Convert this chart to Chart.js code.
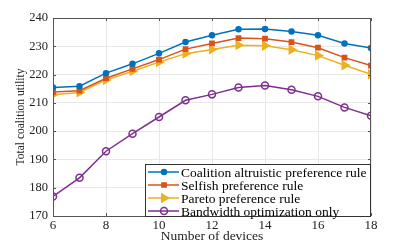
<!DOCTYPE html>
<html>
<head>
<meta charset="utf-8">
<script src="https://cdn.jsdelivr.net/npm/chart.js@4/dist/chart.umd.min.js"></script>
<style>
  html, body { margin: 0; padding: 0; background: #fff; }
  #wrap { width: 409px; height: 245px; }
</style>
</head>
<body>
<div id="wrap"><canvas id="utilityChart"></canvas></div>
<script>
const devices = [6, 7, 8, 9, 10, 11, 12, 13, 14, 15, 16, 17, 18];
const altruistic = [215.4, 215.9, 220.5, 223.8, 227.5, 231.5, 233.9, 236.0, 236.1, 235.2, 233.9, 231.0, 229.4];
const selfish = [213.8, 214.3, 218.7, 222.0, 225.3, 229.0, 231.0, 232.9, 232.7, 231.5, 229.5, 226.0, 223.2];
const pareto = [212.9, 213.7, 218.1, 221.2, 224.4, 227.4, 228.9, 230.4, 230.2, 228.8, 226.7, 223.3, 220.1];
const bandwidth = [176.9, 183.5, 192.9, 199.1, 205.0, 210.9, 213.0, 215.4, 216.1, 214.6, 212.3, 208.4, 205.4];
const xTicks = [6, 8, 10, 12, 14, 16, 18];
const yTicks = [170, 180, 190, 200, 210, 220, 230, 240];

const serif = "'Liberation Serif', 'Times New Roman', serif";

function toPoints(values) {
  return devices.map((d, i) => ({ x: d, y: values[i] }));
}

// Legend box inside the plot, bottom right, plus inward ticks and box
const insideLegend = {
  id: "insideLegend",
  afterDatasetsDraw(chart) {
    const ctx = chart.ctx;
    const area = chart.chartArea;
    const xs = chart.scales.x;
    const ys = chart.scales.y;

    // frame and inward ticks
    ctx.save();
    ctx.strokeStyle = "#555";
    ctx.lineWidth = 1;
    ctx.strokeRect(area.left + 0.5, area.top + 0.5, area.right - area.left - 1, area.bottom - area.top);
    ctx.beginPath();
    xTicks.forEach((t) => {
      const px = Math.round(xs.getPixelForValue(t)) + 0.5;
      ctx.moveTo(px, area.bottom);
      ctx.lineTo(px, area.bottom - 3);
      ctx.moveTo(px, area.top);
      ctx.lineTo(px, area.top + 3);
    });
    yTicks.forEach((t) => {
      const py = Math.round(ys.getPixelForValue(t)) + 0.5;
      ctx.moveTo(area.left, py);
      ctx.lineTo(area.left + 3, py);
      ctx.moveTo(area.right, py);
      ctx.lineTo(area.right - 3, py);
    });
    ctx.stroke();
    ctx.restore();
  },
  afterDraw(chart) {
    const ctx = chart.ctx;
    const area = chart.chartArea;
    const left = 145;
    const top = 164;
    const right = area.right;
    const bottom = area.bottom + 1;
    const rowH = 13;

    ctx.save();
    ctx.fillStyle = "#fff";
    ctx.fillRect(left, top, right - left, bottom - top);
    ctx.strokeStyle = "#333";
    ctx.lineWidth = 1;
    ctx.strokeRect(left + 0.5, top + 0.5, right - left - 1, bottom - top - 1);

    ctx.font = "13.5px " + serif;
    ctx.textBaseline = "middle";
    chart.data.datasets.forEach((ds, i) => {
      const cy = top + 8 + i * rowH;
      ctx.strokeStyle = ds.borderColor;
      ctx.lineWidth = 1.5;
      ctx.beginPath();
      ctx.moveTo(left + 3, cy);
      ctx.lineTo(left + 34, cy);
      ctx.stroke();
      ctx.fillStyle = ds.pointBackgroundColor;
      ctx.strokeStyle = ds.pointBorderColor;
      Chart.helpers.drawPoint(ctx, {
        pointStyle: ds.pointStyle,
        rotation: ds.pointRotation || 0,
        radius: ds.pointRadius,
        borderWidth: 1.5
      }, left + 19, cy);
      ctx.fillStyle = "#000";
      ctx.fillText(ds.label, left + 36, cy + 1);
    });
    ctx.restore();
  }
};

const ctx = document.getElementById("utilityChart").getContext("2d");
new Chart(ctx, {
  type: "line",
  data: {
    datasets: [
      {
        label: "Coalition altruistic preference rule",
        data: toPoints(altruistic),
        borderColor: "#0072BD",
        pointBackgroundColor: "#0072BD",
        pointBorderColor: "#0072BD",
        pointStyle: "circle",
        pointRadius: 2.5,
        borderWidth: 1.5
      },
      {
        label: "Selfish preference rule",
        data: toPoints(selfish),
        borderColor: "#D95319",
        pointBackgroundColor: "#D95319",
        pointBorderColor: "#D95319",
        pointStyle: "rect",
        pointRadius: 3,
        borderWidth: 1.5
      },
      {
        label: "Pareto preference rule",
        data: toPoints(pareto),
        borderColor: "#EDB120",
        pointBackgroundColor: "#EDB120",
        pointBorderColor: "#EDB120",
        pointStyle: "triangle",
        pointRotation: 90,
        pointRadius: 4.5,
        borderWidth: 1.5
      },
      {
        label: "Bandwidth optimization only",
        data: toPoints(bandwidth),
        borderColor: "#7E2F8E",
        pointBackgroundColor: "rgba(255,255,255,0)",
        pointBorderColor: "#7E2F8E",
        pointStyle: "circle",
        pointRadius: 3.5,
        borderWidth: 1.5
      }
    ]
  },
  options: {
    responsive: true,
    maintainAspectRatio: false,
    animation: false,
    layout: { padding: { top: 18, right: 38, bottom: 0, left: 14 } },
    elements: { line: { tension: 0 } },
    plugins: {
      legend: { display: false },
      title: { display: false },
      tooltip: { enabled: false }
    },
    scales: {
      x: {
        type: "linear",
        min: 6,
        max: 18,
        afterBuildTicks: (scale) => { scale.ticks = xTicks.map((v) => ({ value: v })); },
        afterFit: (scale) => { scale.height = 29; },
        grid: { color: "#e8e8e8", drawTicks: false },
        border: { display: false },
        ticks: { color: "#222", font: { family: serif, size: 13 }, padding: 2 },
        title: {
          display: true,
          text: "Number of devices",
          color: "#222",
          font: { family: serif, size: 13.5 },
          padding: { top: 0, bottom: 0 }
        }
      },
      y: {
        min: 170,
        max: 240,
        afterBuildTicks: (scale) => { scale.ticks = yTicks.map((v) => ({ value: v })); },
        afterFit: (scale) => { scale.width = 39; },
        grid: { color: "#e8e8e8", drawTicks: false },
        border: { display: false },
        ticks: { color: "#222", font: { family: serif, size: 12.5 }, padding: 5 },
        title: {
          display: true,
          text: "Total coalition utility",
          color: "#222",
          font: { family: serif, size: 11.5 },
          padding: { top: 0, bottom: 2 }
        }
      }
    }
  },
  plugins: [insideLegend]
});
</script>
</body>
</html>
